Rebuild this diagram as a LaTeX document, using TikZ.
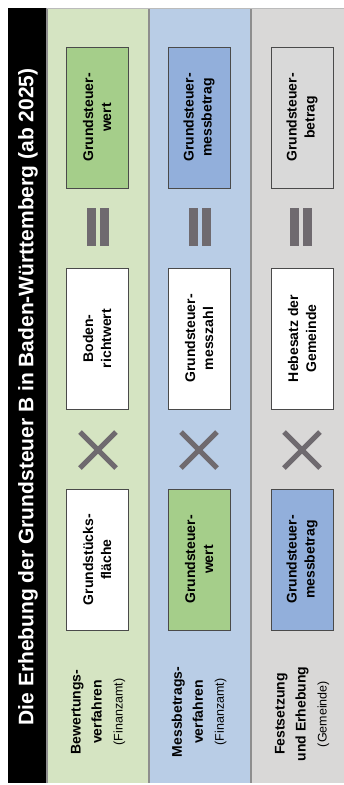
\documentclass[tikz,border=0pt]{standalone}
\usepackage{fontspec}
\setmainfont{Liberation Sans}
\usepackage{tikz}
\definecolor{lanegreen}{HTML}{D5E4C2}
\definecolor{laneblue}{HTML}{B9CDE6}
\definecolor{lanegray}{HTML}{D9D8D7}
\definecolor{boxgreen}{HTML}{A5CE8A}
\definecolor{boxblue}{HTML}{92AFDB}
\definecolor{boxgray}{HTML}{D9D9D9}
\definecolor{lanerule}{HTML}{8E8E8E}
\definecolor{boxrule}{HTML}{4A4A4A}
\definecolor{opgray}{HTML}{6F6A6F}
\tikzset{
  valbox/.style={draw=boxrule, line width=0.9pt, rotate=90, align=center,
    minimum width=141, minimum height=62, inner sep=2pt,
    font=\bfseries\fontsize{14}{18}\selectfont},
  lanelabel/.style={rotate=90, align=center, font=\bfseries\fontsize{14}{21}\selectfont},
  headbar/.style={rotate=90, text=white, font=\bfseries\fontsize{21}{24}\selectfont},
  timessign/.style={draw=opgray, line width=5pt},
  eqbar/.style={fill=opgray},
}
\newcommand{\subtxt}[1]{{\mdseries\fontsize{12.5}{21}\selectfont #1}}

\begin{document}
\begin{tikzpicture}[x=1pt,y=-1pt]
    \useasboundingbox (0,0) rectangle (344,785);

    % lanes
    \fill[black] (8,8) rectangle (47,783);
    \fill[lanegreen] (47,8) rectangle (149,783);
    \fill[laneblue] (149,8) rectangle (251,783);
    \fill[lanegray] (251,8) rectangle (344,783);
    \draw[lanerule, line width=1.5pt] (47,8) -- (47,783) (149,8) -- (149,783) (251,8) -- (251,783);
    \draw[lanerule!60, line width=0.8pt] (47,8) -- (344,8);

    \node[headbar] at (28,397) (title) {Die Erhebung der Grundsteuer B in Baden-Württemberg (ab 2025)};

    % Bewertungsverfahren
    \node[lanelabel] at (98,712) (bewlabel) {Bewertungs-\\verfahren\\\subtxt{(Finanzamt)}};
    \node[valbox,fill=white] at (97,559.5) (flaeche) {Grundstücks-\\fläche};
    \node[valbox,fill=white] at (97,338.5) (bodenwert) {Boden-\\richtwert};
    \node[valbox,fill=boxgreen] at (97,117.5) (gswert) {Grundsteuer-\\wert};
    \draw[timessign] (80,432) -- (116,468) (80,468) -- (116,432);
    \fill[eqbar] (87,208) rectangle (96,246);
    \fill[eqbar] (100,208) rectangle (109,246);

    % Messbetragsverfahren
    \node[lanelabel] at (199,712) (messlabel) {Messbetrags-\\verfahren\\\subtxt{(Finanzamt)}};
    \node[valbox,fill=boxgreen] at (199,559.5) (gswert2) {Grundsteuer-\\wert};
    \node[valbox,fill=white] at (199,338.5) (messzahl) {Grundsteuer-\\messzahl};
    \node[valbox,fill=boxblue] at (199,117.5) (messbetrag) {Grundsteuer-\\messbetrag};
    \draw[timessign] (181,432) -- (217,468) (181,468) -- (217,432);
    \fill[eqbar] (189,208) rectangle (198,246);
    \fill[eqbar] (202,208) rectangle (211,246);

    % Festsetzung und Erhebung
    \node[lanelabel] at (302,714) (festlabel) {Festsetzung\\und Erhebung\\\subtxt{(Gemeinde)}};
    \node[valbox,fill=boxblue] at (302,559.5) (messbetrag2) {Grundsteuer-\\messbetrag};
    \node[valbox,fill=white] at (302,338.5) (hebesatz) {Hebesatz der\\Gemeinde};
    \node[valbox,fill=boxgray] at (302,117.5) (steuerbetrag) {Grundsteuer-\\betrag};
    \draw[timessign] (284,432) -- (320,468) (284,468) -- (320,432);
    \fill[eqbar] (290,208) rectangle (299,246);
    \fill[eqbar] (303,208) rectangle (312,246);
\end{tikzpicture}
\end{document}
